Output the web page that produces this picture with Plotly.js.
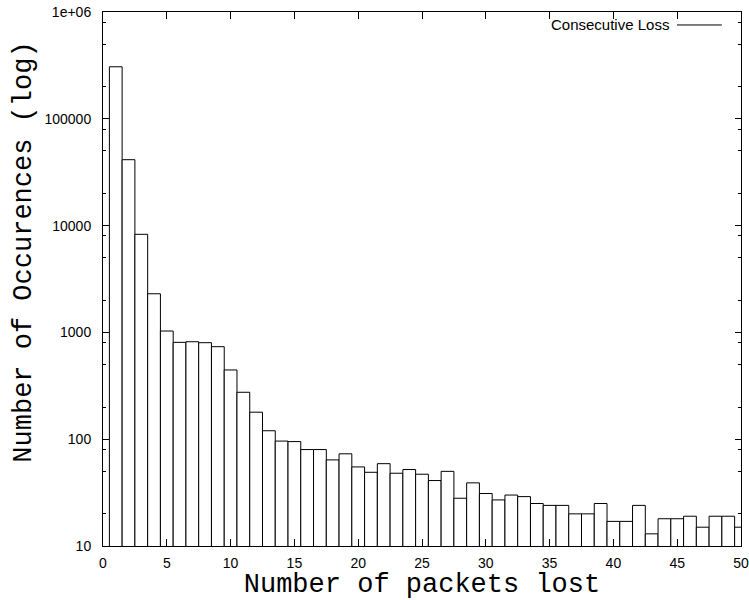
<!DOCTYPE html>
<html>
<head>
<meta charset="utf-8">
<script src="https://cdn.plot.ly/plotly-3.0.1.min.js"></script>
<style>
  html, body { margin: 0; padding: 0; background: #ffffff; }
  #chart { width: 749px; height: 600px; }
</style>
</head>
<body>
<div id="chart"></div>
<script>
// Length of each run of consecutive lost packets
const burstLength = [
   1,  2,  3,  4,  5,  6,  7,  8,  9, 10,
  11, 12, 13, 14, 15, 16, 17, 18, 19, 20,
  21, 22, 23, 24, 25, 26, 27, 28, 29, 30,
  31, 32, 33, 34, 35, 36, 37, 38, 39, 40,
  41, 42, 43, 44, 45, 46, 47, 48, 49, 50
];

// How many times a run of that length was observed
const occurrences = [
  307000, 41400, 8290, 2300, 1030, 807, 818, 801, 735, 445,
     275,   179,  120,   96,   95,  80,  80,  64,  73,  55,
      49,    59,   48,   52,   47,  41,  50,  28,  39,  31,
      27,    30,   29,   25,   24,  24,  20,  20,  25,  17,
      17,    24,   13,   18,   18,  19,  15,  19,  19,  15
];

const seriesName = 'Consecutive Loss';
const xTitle = 'Number of packets lost';
const yTitle = 'Number of Occurences (log)';

const xTickVals = [0, 5, 10, 15, 20, 25, 30, 35, 40, 45, 50];
const yTickVals = [10, 100, 1000, 10000, 100000, 1000000];
const yTickText = ['10', '100', '1000', '10000', '100000', '1e+06'];
// minor ticks at 2, 5 and 8 within each decade
const yMinorVals = [20, 50, 80, 200, 500, 800, 2000, 5000, 8000,
                    20000, 50000, 80000, 200000, 500000, 800000];

const sansFont = 'Liberation Sans, Arial, Helvetica, sans-serif';
const monoFont = 'Liberation Mono, Courier New, monospace';

const trace = {
  type: 'bar',
  name: seriesName,
  x: burstLength,
  y: occurrences,
  width: 1,
  marker: { color: '#ffffff', line: { color: '#000000', width: 1 } },
  showlegend: false,
  hoverinfo: 'x+y'
};

const layout = {
  width: 749,
  height: 600,
  margin: { l: 103, r: 8, t: 12, b: 54 },
  paper_bgcolor: '#ffffff',
  plot_bgcolor: '#ffffff',
  font: { family: sansFont, size: 14, color: '#000000' },
  bargap: 0,
  xaxis: {
    range: [0, 50],
    tickmode: 'array',
    tickvals: xTickVals,
    ticks: 'inside',
    ticklen: 7,
    tickwidth: 1,
    tickcolor: '#000000',
    showline: true,
    linecolor: '#000000',
    linewidth: 1,
    mirror: 'allticks',
    showgrid: false,
    zeroline: false,
    ticklabelstandoff: 4,
    tickfont: { family: sansFont, size: 14, color: '#000000' },
    title: {
      text: xTitle,
      font: { family: monoFont, size: 27, color: '#000000' },
      standoff: 4
    },
    automargin: false
  },
  yaxis: {
    type: 'log',
    range: [1, 6],
    tickmode: 'array',
    tickvals: yTickVals,
    ticktext: yTickText,
    ticks: 'inside',
    ticklen: 6,
    tickwidth: 1,
    tickcolor: '#000000',
    minor: {
      tickmode: 'array',
      tickvals: yMinorVals,
      ticks: 'inside',
      ticklen: 3,
      tickwidth: 1,
      tickcolor: '#000000',
      showgrid: false
    },
    showline: true,
    linecolor: '#000000',
    linewidth: 1,
    mirror: 'allticks',
    showgrid: false,
    zeroline: false,
    ticklabelstandoff: 8,
    tickfont: { family: sansFont, size: 14, color: '#000000' },
    automargin: false
  },
  annotations: [
    {
      // vertical axis title, set a little above the plot's middle
      xref: 'paper', yref: 'paper',
      x: -0.124, y: 0.551,
      xanchor: 'center', yanchor: 'middle',
      textangle: -90,
      text: yTitle,
      showarrow: false,
      font: { family: monoFont, size: 27, color: '#000000' }
    },
    {
      // key: label followed by its line sample
      xref: 'paper', yref: 'paper',
      x: 0.890, y: 0.9757,
      xanchor: 'right', yanchor: 'middle',
      text: seriesName,
      showarrow: false,
      font: { family: sansFont, size: 15, color: '#000000' }
    }
  ],
  shapes: [{
    type: 'line',
    xref: 'paper', yref: 'paper',
    x0: 0.8997, x1: 0.970, y0: 0.9757, y1: 0.9757,
    line: { color: '#000000', width: 1 }
  }]
};

Plotly.newPlot('chart', [trace], layout, { staticPlot: true, displayModeBar: false });
</script>
</body>
</html>
